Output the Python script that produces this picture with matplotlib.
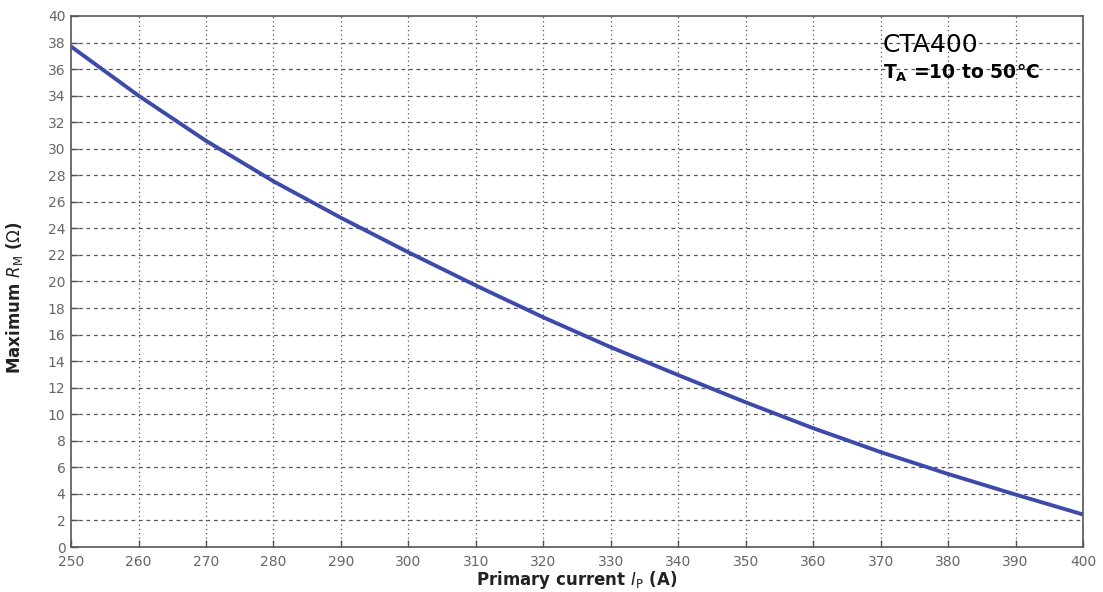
import matplotlib
matplotlib.use("Agg")
import matplotlib.pyplot as plt
import numpy as np

current = [250, 260, 270, 280, 290, 300, 310, 320, 330, 340, 350, 360, 370, 380, 390, 400]
rm_max = [37.7, 34.0, 30.6, 27.55, 24.8, 22.2, 19.7, 17.3, 15.05, 12.95, 10.9, 8.95, 7.15, 5.5, 3.95, 2.45]
x_ticks = list(range(250, 401, 10))
y_ticks = list(range(0, 41, 2))

plt.rcParams['font.family'] = ['DejaVu Sans']
plt.rcParams['mathtext.fontset'] = 'dejavusans'

fig = plt.figure(figsize=(11.03, 5.92), dpi=100)
ax = fig.add_axes([0.0644, 0.076, 0.9175, 0.897])

ax.plot(current, rm_max, color="#3c4aac", lw=2.8, solid_capstyle="butt")
ax.set_xlim(250, 400)
ax.set_ylim(0, 40)
ax.set_xticks(x_ticks)
ax.set_yticks(y_ticks)

for y in y_ticks[1:-1]:
    ax.axhline(y, color="#555555", lw=0.9, ls=(0, (3, 3)), zorder=0)
for x in x_ticks[1:-1]:
    ax.axvline(x, color="#555555", lw=0.9, ls=(0, (1, 2.5)), zorder=0)

ax.tick_params(direction="in", length=5, width=1, colors="#555555",
               labelcolor="#666666", labelsize=10)
ax.tick_params(axis="x", pad=6)
ax.tick_params(axis="y", pad=4)
for s in ax.spines.values():
    s.set_color("#555555")
    s.set_linewidth(1.2)

ax.set_xlabel(r"Primary current $I_{\mathrm{P}}$ (A)", fontsize=12,
              fontweight="bold", color="#222222", labelpad=0)
ax.set_ylabel(r"Maximum $R_{\mathrm{M}}$ ($\Omega$)", fontsize=12,
              fontweight="bold", color="#222222")
ax.yaxis.set_label_coords(-0.0455, 0.47)

ax.text(0.802, 0.945, "CTA400", transform=ax.transAxes, fontsize=18,
        color="black", ha="left", va="center")
ax.text(0.802, 0.893, r"T$_{\mathregular{A}}$ =10 to 50℃", transform=ax.transAxes,
        fontsize=13.5, fontweight="bold", color="black", ha="left", va="center")

fig.savefig("out.png", dpi=100)
